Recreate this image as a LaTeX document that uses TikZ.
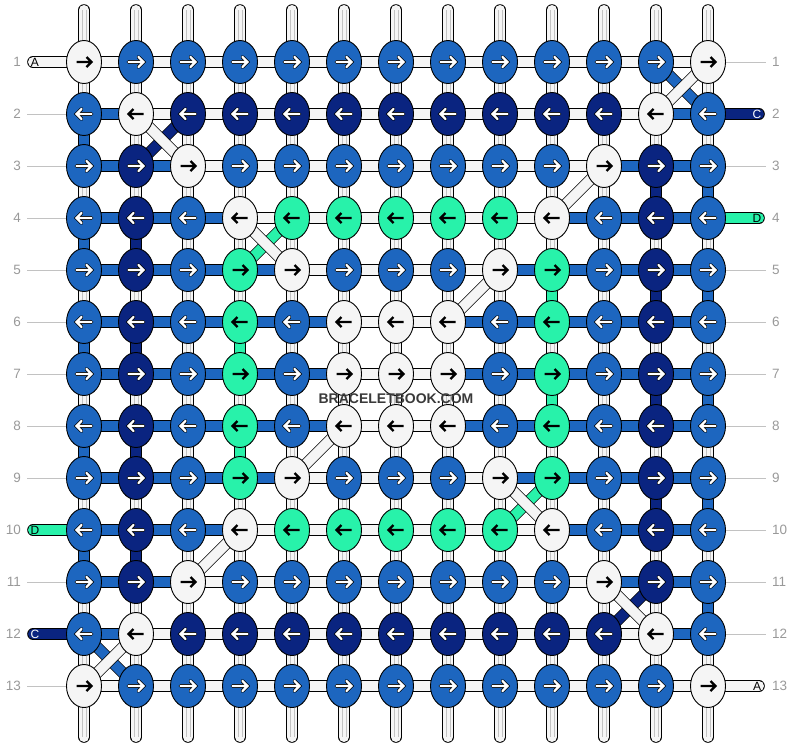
\documentclass[tikz,border=0pt]{standalone}
\usepackage{fontspec}
\setmainfont{Liberation Sans}
\usetikzlibrary{shapes.geometric}
\definecolor{cW}{HTML}{F5F5F5}
\definecolor{cB}{HTML}{1D66BF}
\definecolor{cD}{HTML}{0A2480}
\definecolor{cG}{HTML}{28F2AA}
\definecolor{labelgray}{HTML}{999999}
\definecolor{rulegray}{HTML}{C2C2C2}
\definecolor{markgray}{HTML}{3A3A3A}
\pgfdeclarelayer{back}
\pgfsetlayers{back,main}
\tikzset{
  knot/.style={ellipse,draw=black,line width=0.9pt,minimum width=35pt,minimum height=43pt,inner sep=0pt},
  strand/.style={draw=black,line width=0.8pt,double=#1,double distance=10pt},
  rowlabel/.style={text=labelgray,inner sep=0pt,font=\fontsize{13.5}{13.5}\selectfont},
  endlabel/.style={inner sep=0pt,font=\fontsize{12}{12}\selectfont},
  pics/lightarrow/.style={code={
    \draw[line width=3.6pt,line cap=round] (-7.5,0) -- (6,0) (2.5,-5) -- (7.5,0) -- (2.5,5);
    \draw[line width=2.2pt,line cap=round,white] (-7.5,0) -- (6,0) (2.5,-5) -- (7.5,0) -- (2.5,5);
  }},
  pics/darkarrow/.style={code={
    \draw[line width=2.4pt] (-7.5,0) -- (6,0) (2.5,-5) -- (7.5,0) -- (2.5,5);
  }},
}
\begin{document}
\begin{tikzpicture}[x=1pt,y=-1pt]
\useasboundingbox (0,0) rectangle (792,748);
% knots, one row at a time
\foreach \r/\row in {1/{W,B,B,B,B,B,B,B,B,B,B,B,W},
    2/{B,W,D,D,D,D,D,D,D,D,D,W,B},
    3/{B,D,W,B,B,B,B,B,B,B,W,D,B},
    4/{B,D,B,W,G,G,G,G,G,W,B,D,B},
    5/{B,D,B,G,W,B,B,B,W,G,B,D,B},
    6/{B,D,B,G,B,W,W,W,B,G,B,D,B},
    7/{B,D,B,G,B,W,W,W,B,G,B,D,B},
    8/{B,D,B,G,B,W,W,W,B,G,B,D,B},
    9/{B,D,B,G,W,B,B,B,W,G,B,D,B},
    10/{B,D,B,W,G,G,G,G,G,W,B,D,B},
    11/{B,D,W,B,B,B,B,B,B,B,W,D,B},
    12/{B,W,D,D,D,D,D,D,D,D,D,W,B},
    13/{W,B,B,B,B,B,B,B,B,B,B,B,W}}{
  \pgfmathtruncatemacro\dir{1-2*mod(\r+1,2)}
  \foreach \k [count=\c] in \row {
    \def\ac{lightarrow}\if\k W\def\ac{darkarrow}\fi\if\k G\def\ac{darkarrow}\fi
    \node[knot,fill=c\k] (k-\r-\c) at ({84+52*(\c-1)},{62+52*(\r-1)}) {};
    \pic[xscale=\dir] at (k-\r-\c) {\ac};
  }
  \node[rowlabel,anchor=east] (lab-l-\r) at (21,{62+52*(\r-1)}) {\r};
  \node[rowlabel,anchor=west] (lab-r-\r) at (772,{62+52*(\r-1)}) {\r};
}
\node[font=\bfseries\fontsize{14}{14}\selectfont,text=markgray,inner sep=0pt] (mark) at (396,399) {BRACELETBOOK.COM};

\begin{pgfonlayer}{back}
% vertical strings
\foreach \c in {1,...,13}{
  \coordinate (top-\c) at ({84+52*(\c-1)},10);
  \coordinate (bot-\c) at ({84+52*(\c-1)},737);
  \draw[strand=cW,line cap=round] (top-\c) -- (bot-\c);
  \draw[rulegray,line width=0.5pt] ([xshift=-1.8pt]top-\c) -- ([xshift=-1.8pt]bot-\c)
    ([xshift=1.8pt]top-\c) -- ([xshift=1.8pt]bot-\c);
}
% rows
\foreach \r/\row in {1/{W,W,W,W,W,W,W,W,W,W,W,W},
    2/{B,W,W,W,W,W,W,W,W,W,W,B},
    3/{B,B,W,W,W,W,W,W,W,W,B,B},
    4/{B,B,B,W,W,W,W,W,W,B,B,B},
    5/{B,B,B,B,W,W,W,W,B,B,B,B},
    6/{B,B,B,B,B,W,W,B,B,B,B,B},
    7/{B,B,B,B,B,W,W,B,B,B,B,B},
    8/{B,B,B,B,B,W,W,B,B,B,B,B},
    9/{B,B,B,B,W,W,W,W,B,B,B,B},
    10/{B,B,B,W,W,W,W,W,W,B,B,B},
    11/{B,B,W,W,W,W,W,W,W,W,B,B},
    12/{B,W,W,W,W,W,W,W,W,W,W,B},
    13/{W,W,W,W,W,W,W,W,W,W,W,W}}{
  \foreach \s [count=\c] in \row {
    \pgfmathtruncatemacro\n{\c+1}
    \draw[strand=c\s] (k-\r-\c.center) -- (k-\r-\n.center);
  }
}
% coloured drops between rows
\foreach \c/\r/\s in {1/2/B,1/4/B,1/6/B,1/8/B,1/10/B,2/4/D,2/6/D,2/8/D,2/10/D,
    4/6/G,4/8/G,10/5/G,10/7/G,12/3/D,12/5/D,12/7/D,12/9/D,
    13/3/B,13/5/B,13/7/B,13/9/B,13/11/B}{
  \pgfmathtruncatemacro\n{\r+1}
  \draw[strand=c\s] (k-\r-\c.center) -- (k-\n-\c.center);
}
% crossings
\foreach \ra/\ca/\rb/\cb/\s in {1/12/2/13/B,2/3/3/2/D,4/5/5/4/G,9/10/10/9/G,11/12/12/11/D,12/1/13/2/B}
  \draw[strand=c\s] (k-\ra-\ca.center) -- (k-\rb-\cb.center);
\foreach \ra/\ca/\rb/\cb in {1/13/2/12,2/2/3/3,3/11/4/10,4/4/5/5,5/9/6/8,8/6/9/5,9/9/10/10,10/4/11/3,11/11/12/12,12/2/13/1}
  \draw[strand=cW] (k-\ra-\ca.center) -- (k-\rb-\cb.center);
% loose ends
\foreach \r/\s/\t/\tc in {1/W/A/black,10/G/D/black,12/D/C/white}{
  \coordinate (end-l-\r) at (33,{62+52*(\r-1)});
  \draw[strand=c\s,line cap=round] (end-l-\r) -- (k-\r-1.center);
  \node[endlabel,text=\tc] (tag-l-\r) at (35,{62+52*(\r-1)}) {\t};
}
\foreach \r/\s/\t/\tc in {2/D/C/white,4/G/D/black,13/W/A/black}{
  \coordinate (end-r-\r) at (759,{62+52*(\r-1)});
  \draw[strand=c\s,line cap=round] (k-\r-13.center) -- (end-r-\r);
  \node[endlabel,text=\tc] (tag-r-\r) at (757,{62+52*(\r-1)}) {\t};
}
% row rules
\foreach \r in {2,...,9,11,13}{
  \coordinate (rule-l-\r) at (27,{62+52*(\r-1)});
  \draw[rulegray,line width=0.9pt] (rule-l-\r) -- (k-\r-1.center);
}
\foreach \r in {1,3,5,6,7,8,9,10,11,12}{
  \coordinate (rule-r-\r) at (766,{62+52*(\r-1)});
  \draw[rulegray,line width=0.9pt] (k-\r-13.center) -- (rule-r-\r);
}
\end{pgfonlayer}
\end{tikzpicture}
\end{document}
